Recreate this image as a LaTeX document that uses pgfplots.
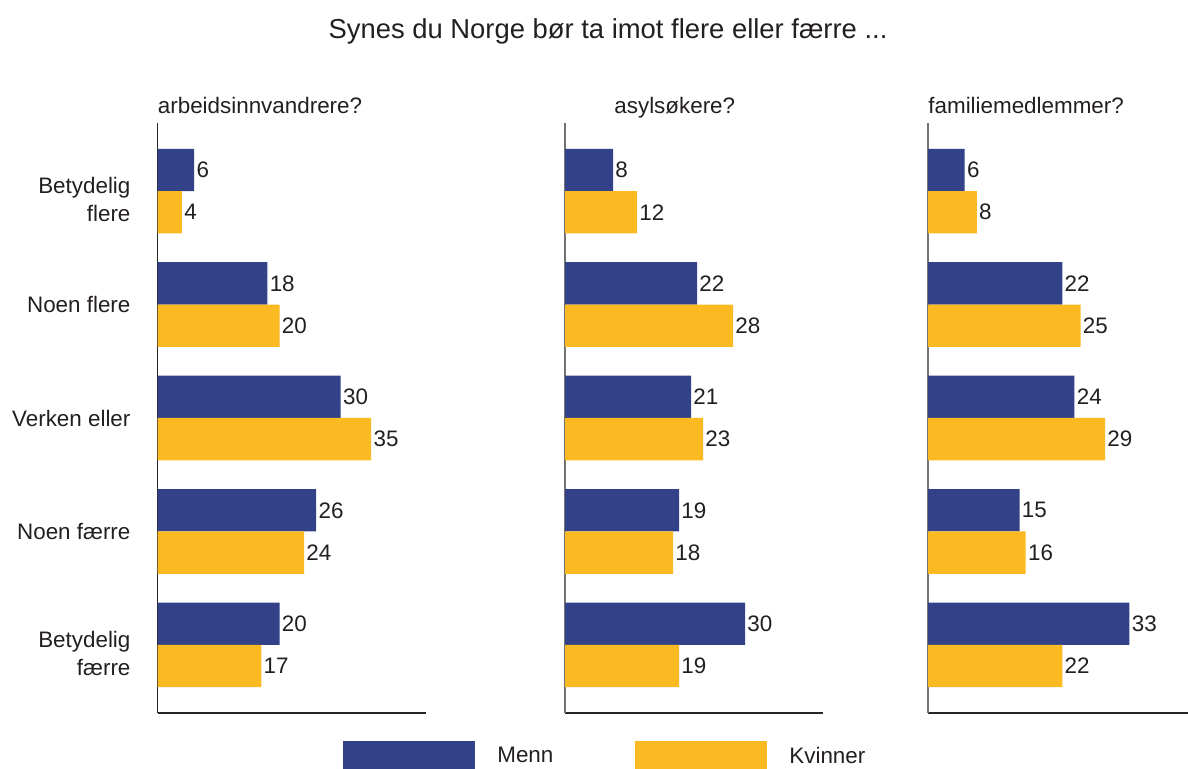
\documentclass[border=0pt]{standalone}
\usepackage{fontspec}
\setmainfont{Liberation Sans}
\usepackage{pgfplots}
\usepackage{pgfplotstable}
\pgfplotsset{compat=1.18}

\definecolor{menn}{RGB}{51,66,136}
\definecolor{kvinner}{RGB}{251,186,34}
\definecolor{txt}{RGB}{35,31,32}
\newcommand\txtfont{\fontsize{11.2}{14}\selectfont}
\newcommand\titfont{\fontsize{13.7}{17}\selectfont}

% cat: 4 = Betydelig flere (top) ... 0 = Betydelig faerre (bottom)
\pgfplotstableread{
cat menn kvinner
4 6 4
3 18 20
2 30 35
1 26 24
0 20 17
}\arbeid
\pgfplotstableread{
cat menn kvinner
4 8 12
3 22 28
2 21 23
1 19 18
0 30 19
}\asyl
\pgfplotstableread{
cat menn kvinner
4 6 8
3 22 25
2 24 29
1 15 16
0 33 22
}\familie

\pgfplotsset{
  /pgf/number format/assume math mode=true,
  panel/.style={
    scale only axis, anchor=south west, height=295pt,
    xbar, bar width=0.373,
    xmin=0, ymin=-0.6, ymax=4.6,
    axis lines*=left,
    axis line style={-, black!85, line width=0.6pt},
    xtick=\empty, ytick=\empty, major tick length=0pt,
    nodes near coords,
    nodes near coords style={font=\txtfont, text=txt, inner sep=1pt, anchor=west},
    every axis plot/.append style={draw=none},
    clip=false,
    every axis title/.style={at={(0,1)}, anchor=base west, inner sep=0pt, yshift=4.5pt, font=\txtfont, text=txt},
  },
}

\begin{document}
\begin{tikzpicture}
\path[use as bounding box] (0,0) rectangle (594pt,-384.5pt);
\node[font=\titfont, text=txt] at (304pt,-15.5pt) {Synes du Norge bør ta imot flere eller færre ...};

\begin{axis}[panel, at={(78.75pt,-356.5pt)}, width=134pt, xmax=43.9,
  title={arbeidsinnvandrere?},
  ytick={0,1,2,3,4},
  yticklabels={{\rule{0pt}{17pt}Betydelig\\færre},{Noen færre},{Verken eller},{Noen flere},{\rule{0pt}{17pt}Betydelig\\flere}},
  yticklabel style={align=right, font=\txtfont, text=txt, xshift=-10pt},
  legend columns=2,
  legend image code/.code={\fill[#1] (0pt,-7.5pt) rectangle (66pt,7.5pt);},
  legend style={draw=none, fill=none, at={(0.692,-0.0475)}, anchor=north west,
    inner sep=0pt, font=\txtfont, text=txt, nodes={inner sep=1pt},
    column sep=10pt, /tikz/every even column/.append style={column sep=40pt}},
]
\addplot[fill=menn, bar shift=0.1865] table[x=menn, y=cat] {\arbeid};
\addlegendentry{Menn}
\addplot[fill=kvinner, bar shift=-0.1865] table[x=kvinner, y=cat] {\arbeid};
\addlegendentry{Kvinner}
\end{axis}

\begin{axis}[panel, at={(282.5pt,-356.5pt)}, width=129pt, xmax=43,
  title={asylsøkere?}, title style={xshift=24.5pt},
  y axis line style={black!55}]
\addplot[fill=menn, bar shift=0.1865] table[x=menn, y=cat] {\asyl};
\addplot[fill=kvinner, bar shift=-0.1865] table[x=kvinner, y=cat] {\asyl};
\end{axis}

\begin{axis}[panel, at={(464pt,-356.5pt)}, width=130pt, xmax=42.6,
  title={familiemedlemmer?},
  y axis line style={black!55}]
\addplot[fill=menn, bar shift=0.1865] table[x=menn, y=cat] {\familie};
\addplot[fill=kvinner, bar shift=-0.1865] table[x=kvinner, y=cat] {\familie};
\end{axis}
\end{tikzpicture}
\end{document}
